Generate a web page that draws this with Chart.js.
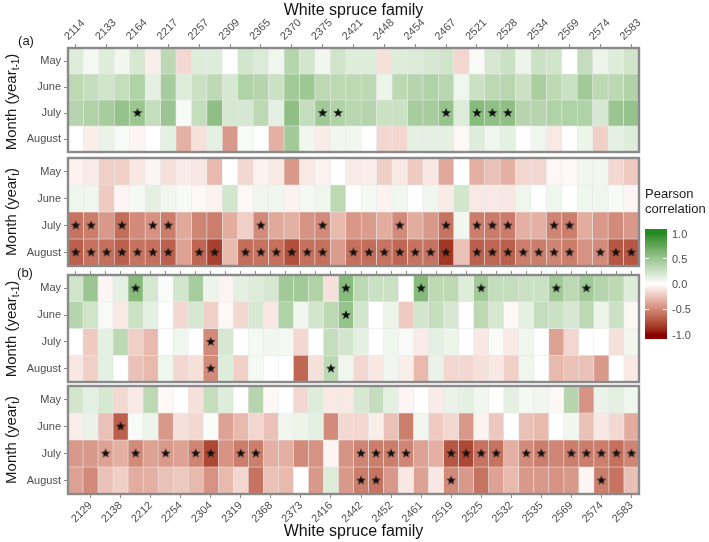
<!DOCTYPE html>
<html><head><meta charset="utf-8">
<script src="https://cdn.jsdelivr.net/npm/chart.js@4.4.1/dist/chart.umd.min.js"></script>
<style>
html,body{margin:0;padding:0;background:#fff;}
#wrap{position:relative;width:709px;height:542px;overflow:hidden;font-family:"Liberation Sans",Arial,sans-serif;}
canvas{position:absolute;left:0;}
.ytitle{position:absolute;transform:translate(-50%,-50%) rotate(-90deg);white-space:nowrap;font-size:15px;color:#1a1a1a;z-index:5;}
.ytitle sub{font-size:10px;vertical-align:-3px;line-height:0;}
.tag{position:absolute;font-size:13px;color:#1a1a1a;z-index:5;transform:translate(-50%,-50%);}
#legTitle{position:absolute;left:645px;top:186px;font-size:13px;line-height:15px;color:#1a1a1a;}
#legBar{position:absolute;left:645px;top:229px;width:22px;height:110px;}
.legTick{position:absolute;height:1px;width:4px;background:#fff;}
.legLab{position:absolute;left:672px;font-size:11px;color:#4d4d4d;transform:translateY(-50%);}
</style></head>
<body><div id="wrap">
<canvas id="cA1" width="709" height="158" style="top:0px;width:709px;height:158px"></canvas>
<canvas id="cA2" width="709" height="126" style="top:150px;width:709px;height:126px"></canvas>
<canvas id="cB1" width="709" height="124" style="top:264px;width:709px;height:124px"></canvas>
<canvas id="cB2" width="709" height="164" style="top:378px;width:709px;height:164px"></canvas>
<div class="tag" style="left:26px;top:40px">(a)</div>
<div class="tag" style="left:25px;top:272px">(b)</div>
<div class="ytitle" style="left:10px;top:102px">Month (year<sub>t-1</sub>)</div>
<div class="ytitle" style="left:10px;top:212px">Month (year<sub>t</sub>)</div>
<div class="ytitle" style="left:10px;top:329px">Month (year<sub>t-1</sub>)</div>
<div class="ytitle" style="left:10px;top:440px">Month (year<sub>t</sub>)</div>
<div id="legTitle">Pearson<br>correlation</div>
<div id="legBar"></div>
</div>
<script>
const FONT = '"Liberation Sans", Arial, sans-serif';
const months = ['May', 'June', 'July', 'August'];

// Families (panel a: 37, panel b: 38); every other one is labelled in the figure
const familiesA = ['2114','2129','2133','2138','2164','2212','2217','2254','2257','2304','2309','2319','2365','2368','2370','2373','2375','2416','2421','2442','2448','2452','2454','2461','2467','2519','2521','2525','2528','2532','2534','2535','2569','2571','2574','2577','2583'];
const familiesB = ['2114','2129','2133','2138','2164','2212','2217','2254','2257','2304','2309','2319','2365','2368','2370','2373','2375','2416','2421','2442','2448','2452','2454','2461','2467','2519','2521','2525','2528','2532','2534','2535','2541','2569','2571','2574','2577','2583'];

// (a) Month (year t-1)
const aPrevMay    = [0.16,0.05,0.16,0.07,0.2,-0.07,0.33,-0.16,0.16,0.16,0.01,0.22,0.17,0.08,0.36,0.22,0.07,0.23,0.16,0.16,-0.13,0.16,0.17,0.2,0.23,-0.17,0.04,0.2,0.26,0.09,0.26,0.23,0.0,0.29,0.09,0.16,0.23];
const aPrevJune   = [0.33,0.29,0.23,0.29,0.39,0.13,0.43,0.16,0.26,0.33,0.2,0.39,0.36,0.26,0.46,0.48,0.33,0.33,0.33,0.33,0.09,0.33,0.36,0.39,0.35,0.08,0.26,0.33,0.35,0.26,0.42,0.33,0.26,0.46,0.33,0.33,0.39];
const aPrevJuly   = [0.36,0.39,0.43,0.52,0.49,0.29,0.49,0.04,0.29,0.55,0.2,0.2,0.33,0.13,0.55,0.29,0.46,0.39,0.35,0.36,0.26,0.26,0.43,0.43,0.52,0.16,0.59,0.55,0.55,0.36,0.36,0.39,0.39,0.39,0.2,0.49,0.52];
const aPrevAugust = [0.0,-0.07,0.1,0.04,-0.04,0.0,0.13,-0.33,-0.13,0.13,-0.43,0.04,0.0,-0.33,0.46,0.07,-0.08,0.07,0.07,0.0,-0.17,-0.17,0.13,0.13,0.13,-0.03,0.16,0.08,0.13,0.0,0.08,-0.09,0.01,0.09,-0.2,0.13,0.16];
// (a) Month (year t)
const aCurMay     = [-0.05,-0.08,-0.2,-0.2,-0.1,-0.04,-0.13,-0.08,-0.1,-0.29,0.0,-0.16,-0.05,-0.09,-0.43,-0.09,-0.05,0.0,-0.08,-0.07,-0.2,-0.09,-0.22,-0.1,-0.36,0.0,-0.33,-0.26,-0.33,-0.16,-0.16,-0.03,-0.03,0.07,0.07,-0.16,-0.22];
const aCurJune    = [0.08,0.08,-0.22,-0.04,0.05,0.13,0.07,0.04,-0.03,-0.05,0.22,-0.03,0.08,0.07,-0.05,0.05,0.08,0.33,0.01,0.05,-0.05,0.07,0.0,0.08,-0.08,0.22,-0.09,-0.09,-0.1,0.08,0.01,0.08,0.0,0.08,0.08,0.04,-0.04];
const aCurJuly    = [-0.59,-0.55,-0.43,-0.62,-0.49,-0.46,-0.55,-0.36,-0.52,-0.55,-0.35,-0.2,-0.49,-0.36,-0.33,-0.46,-0.49,-0.29,-0.44,-0.42,-0.35,-0.49,-0.35,-0.43,-0.59,0.07,-0.55,-0.56,-0.56,-0.33,-0.33,-0.52,-0.55,-0.35,-0.43,-0.49,-0.43];
const aCurAugust  = [-0.68,-0.59,-0.61,-0.68,-0.59,-0.61,-0.68,-0.39,-0.65,-0.81,-0.29,-0.62,-0.59,-0.61,-0.75,-0.61,-0.61,-0.42,-0.61,-0.62,-0.59,-0.65,-0.59,-0.59,-0.85,-0.26,-0.68,-0.65,-0.68,-0.55,-0.55,-0.52,-0.55,-0.46,-0.49,-0.72,-0.72];
// (b) Month (year t-1)
const bPrevMay    = [0.23,0.49,-0.04,0.13,0.59,0.2,0.03,0.22,0.43,0.09,-0.04,0.13,0.16,0.2,0.46,0.46,0.39,-0.13,0.59,0.33,0.26,0.26,0.0,0.59,0.33,0.33,0.16,0.46,0.29,0.29,0.26,0.26,0.46,0.33,0.46,0.36,0.33,0.16];
const bPrevJune   = [0.36,0.23,0.04,-0.09,0.26,0.13,0.01,-0.16,0.2,-0.2,-0.03,-0.16,0.2,-0.1,0.39,0.07,0.22,0.33,0.52,0.22,0.0,0.09,-0.22,0.22,0.29,0.2,0.01,0.33,0.2,-0.03,0.13,0.29,0.26,0.2,0.33,0.09,0.26,-0.03];
const bPrevJuly   = [0.0,-0.22,0.13,0.33,-0.2,-0.29,0.01,0.08,0.01,-0.49,0.2,0.0,0.05,0.07,0.05,-0.16,0.0,0.29,0.22,0.13,0.0,0.08,0.04,-0.08,0.13,0.09,0.0,-0.1,0.03,-0.09,0.07,0.01,-0.39,-0.17,0.0,0.0,-0.13,0.07];
const bPrevAugust = [-0.1,-0.2,0.13,0.01,-0.26,-0.29,0.08,-0.16,-0.13,-0.49,0.16,-0.2,0.05,0.01,0.0,-0.65,-0.13,0.33,0.08,-0.16,-0.1,0.07,-0.07,-0.29,0.1,-0.17,-0.16,-0.13,-0.09,-0.2,0.08,0.01,-0.29,-0.26,-0.26,-0.43,0.0,-0.09];
// (b) Month (year t)
const bCurMay     = [0.22,0.13,0.2,-0.16,-0.09,0.33,-0.03,0.0,-0.13,0.29,0.16,0.0,0.36,-0.03,0.01,-0.16,0.16,-0.09,-0.09,0.2,0.29,0.13,-0.04,0.0,-0.08,0.1,0.13,0.07,0.0,0.13,0.05,0.07,-0.03,0.36,-0.46,0.1,0.13,0.08];
const bCurJune    = [-0.07,0.1,-0.26,-0.68,0.04,0.09,-0.43,-0.13,-0.16,0.03,-0.39,-0.29,-0.17,-0.26,0.07,0.09,0.13,-0.49,-0.16,-0.17,-0.07,-0.26,-0.55,0.07,-0.22,-0.16,-0.43,-0.05,-0.23,0.0,-0.26,-0.29,0.0,0.07,-0.26,-0.1,-0.16,-0.35];
const bCurJuly    = [-0.43,-0.43,-0.39,-0.33,-0.49,-0.39,-0.43,-0.39,-0.52,-0.78,-0.46,-0.55,-0.55,-0.33,-0.33,-0.49,-0.46,-0.04,-0.46,-0.52,-0.55,-0.55,-0.52,-0.39,-0.33,-0.72,-0.78,-0.59,-0.59,-0.33,-0.49,-0.55,-0.52,-0.55,-0.55,-0.55,-0.61,-0.52];
const bCurAugust  = [-0.39,-0.49,-0.26,-0.2,-0.35,-0.33,-0.26,-0.23,-0.29,-0.46,-0.29,-0.16,-0.59,-0.26,-0.29,0.0,-0.43,0.16,-0.43,-0.55,-0.59,-0.43,-0.1,-0.39,-0.1,-0.49,-0.43,-0.59,-0.39,-0.29,-0.43,-0.43,-0.46,-0.43,-0.04,-0.55,-0.59,-0.26];

// Significant cells (column indices) per month
const aPrevSig = [[], [], [4,16,17,24,26,27,28], []];
const aCurSig  = [[], [], [0,1,3,5,6,12,16,21,24,26,27,28,31,32], [0,1,2,3,4,5,6,8,9,11,12,13,14,15,16,18,19,20,21,22,23,24,26,27,28,29,30,31,32,34,35,36]];
const bPrevSig = [[4,18,23,27,32,34], [18], [9], [9,17]];
const bCurSig  = [[], [3], [2,4,6,8,9,11,12,19,20,21,22,25,26,27,28,30,31,33,34,35,36,37], [19,20,25,35]];

const legendTicks = [1.0, 0.5, 0.0, -0.5, -1.0];

// ---- diverging colour scale (white mid, interpolated in CIELAB) ----
function lin(c){ c/=255; return c<=0.04045 ? c/12.92 : Math.pow((c+0.055)/1.055,2.4); }
function toLab(r,g,b){
  r=lin(r); g=lin(g); b=lin(b);
  let X=(0.4124*r+0.3576*g+0.1805*b)/0.95047, Y=(0.2126*r+0.7152*g+0.0722*b), Z=(0.0193*r+0.1192*g+0.9505*b)/1.08883;
  const f=t=>t>0.008856?Math.cbrt(t):7.787*t+16/116;
  const fx=f(X), fy=f(Y), fz=f(Z);
  return [116*fy-16, 500*(fx-fy), 200*(fy-fz)];
}
function fromLab(L,a,b){
  const fy=(L+16)/116, fx=fy+a/500, fz=fy-b/200;
  const fi=t=>t*t*t>0.008856?t*t*t:(t-16/116)/7.787;
  const X=fi(fx)*0.95047, Y=fi(fy), Z=fi(fz)*1.08883;
  let r=3.2406*X-1.5372*Y-0.4986*Z, g=-0.9689*X+1.8758*Y+0.0415*Z, bb=0.0557*X-0.2040*Y+1.0570*Z;
  const gm=c=>{c=c<=0.0031308?12.92*c:1.055*Math.pow(c,1/2.4)-0.055; return Math.round(Math.max(0,Math.min(1,c))*255);};
  return 'rgb('+gm(r)+','+gm(g)+','+gm(bb)+')';
}
const LAB_HIGH = toLab(34,139,34), LAB_LOW = toLab(139,0,0), LAB_MID = toLab(255,255,255);
function divColor(v){
  const t=Math.max(-1,Math.min(1,v)), e=t>=0?LAB_HIGH:LAB_LOW, k=Math.abs(t);
  return fromLab(LAB_MID[0]+(e[0]-LAB_MID[0])*k, LAB_MID[1]+(e[1]-LAB_MID[1])*k, LAB_MID[2]+(e[2]-LAB_MID[2])*k);
}

function makeStar(R){
  const c=document.createElement('canvas'); const s=Math.ceil(R*2+2); c.width=c.height=s;
  const g=c.getContext('2d'); g.fillStyle='#111'; g.beginPath();
  for(let i=0;i<10;i++){ const rr=i%2?R*0.42:R; const a=-Math.PI/2+i*Math.PI/5; g.lineTo(s/2+rr*Math.cos(a), s/2+rr*Math.sin(a)); }
  g.closePath(); g.fill(); return c;
}
const starImg = makeStar(5);

Chart.defaults.font.family = FONT;

const framePlugin = { id:'frame', afterDatasetsDraw(chart){
  const {ctx, chartArea:a} = chart; ctx.save(); ctx.strokeStyle='#8a8a8a'; ctx.lineWidth=2.4;
  ctx.strokeRect(a.left, a.top, a.right-a.left, a.bottom-a.top); ctx.restore(); } };

function xAxis(o){
  return {
    type:'category', position:o.position, display:o.display, offset:true,
    grid:{offset:false, drawOnChartArea:false, drawTicks:true, tickLength:4, lineWidth:1,
      color: c => (o.allTicks || c.index % 2 === o.parity) ? '#8a8a8a' : 'rgba(0,0,0,0)'},
    border:{display:false},
    ticks:{autoSkip:false, minRotation:45, maxRotation:45, padding:1, color:'#4d4d4d', font:{family:FONT,size:11},
      callback: function(v,i){ return (o.labels && i % 2 === o.parity) ? this.getLabelForValue(v) : ''; }},
    title: o.title ? {display:true, text:o.title, color:'#111', font:{family:FONT,size:16}, padding:{top:1,bottom:1}} : {display:false},
    afterFit: s => { s.height = o.height; s.paddingLeft = 0; s.paddingRight = 0; }
  };
}
function yAxis(){
  return {
    type:'linear', min:0.5, max:4.5, reverse:true,
    afterBuildTicks: s => { s.ticks = [1,2,3,4].map(v => ({value:v})); },
    ticks:{color:'#4d4d4d', font:{family:FONT,size:11}, padding:3, callback: v => months[v-1]},
    grid:{drawOnChartArea:false, drawTicks:true, tickLength:4, color:'#8a8a8a'},
    border:{display:false},
    afterFit: s => { s.width = 68; s.paddingTop = 0; s.paddingBottom = 0; }
  };
}

function panel(id, families, rows, sig, xopts, padding){
  const datasets = rows.map((vals, r) => ({
    type:'bar', order:1,
    data: vals.map(() => [r + 0.5, r + 1.5]),
    backgroundColor: vals.map(divColor),
    borderColor:'rgba(232,232,232,0.9)', borderWidth:0.6, borderSkipped:false,
    barPercentage:1, categoryPercentage:1, grouped:false
  }));
  const pts = [];
  sig.forEach((cols, r) => cols.forEach(c => pts.push({x: families[c], y: r + 1})));
  datasets.push({type:'scatter', order:0, data:pts, pointStyle:starImg, pointRadius:5, pointHoverRadius:5, showLine:false});
  return new Chart(document.getElementById(id), {
    type:'bar',
    data:{labels:families, datasets},
    options:{
      responsive:false, animation:false, events:[],
      layout:{padding},
      plugins:{legend:{display:false}, tooltip:{enabled:false}},
      scales:{x:xAxis(xopts), y:yAxis()}
    },
    plugins:[framePlugin]
  });
}

panel('cA1', familiesA, [aPrevMay,aPrevJune,aPrevJuly,aPrevAugust], aPrevSig,
  {position:'top', display:true, parity:0, labels:true, title:'White spruce family', height:48},
  {top:0, left:0, right:70, bottom:2});
panel('cA2', familiesA, [aCurMay,aCurJune,aCurJuly,aCurAugust], aCurSig,
  {position:'bottom', display:false, parity:0, labels:false, height:0},
  {top:8, left:0, right:70, bottom:10});
panel('cB1', familiesB, [bPrevMay,bPrevJune,bPrevJuly,bPrevAugust], bPrevSig,
  {position:'top', display:true, parity:1, labels:false, allTicks:true, height:11},
  {top:0, left:0, right:70, bottom:4});
panel('cB2', familiesB, [bCurMay,bCurJune,bCurJuly,bCurAugust], bCurSig,
  {position:'bottom', display:true, parity:1, labels:true, title:'White spruce family', height:48},
  {top:8, left:0, right:70, bottom:0});

// colour-bar legend
(function(){
  const bar = document.getElementById('legBar'), wrap = document.getElementById('wrap');
  const top = 229, h = 110, y = v => 284 - 50.5 * v;
  const stops = [];
  for (let i = 0; i <= 40; i++) { const v = 1 - i / 20; stops.push(divColor(v) + ' ' + ((y(v) - top) / h * 100).toFixed(2) + '%'); }
  bar.style.background = 'linear-gradient(to bottom,' + stops.join(',') + ')';
  legendTicks.forEach(v => {
    const lab = document.createElement('div'); lab.className = 'legLab'; lab.style.top = y(v) + 'px';
    lab.textContent = v.toFixed(1); wrap.appendChild(lab);
    if (Math.abs(v) < 1) {
      [645, 663].forEach(x => { const t = document.createElement('div'); t.className = 'legTick';
        t.style.left = x + 'px'; t.style.top = (y(v) - 0.5) + 'px'; wrap.appendChild(t); });
    }
  });
})();
</script>
</body></html>
